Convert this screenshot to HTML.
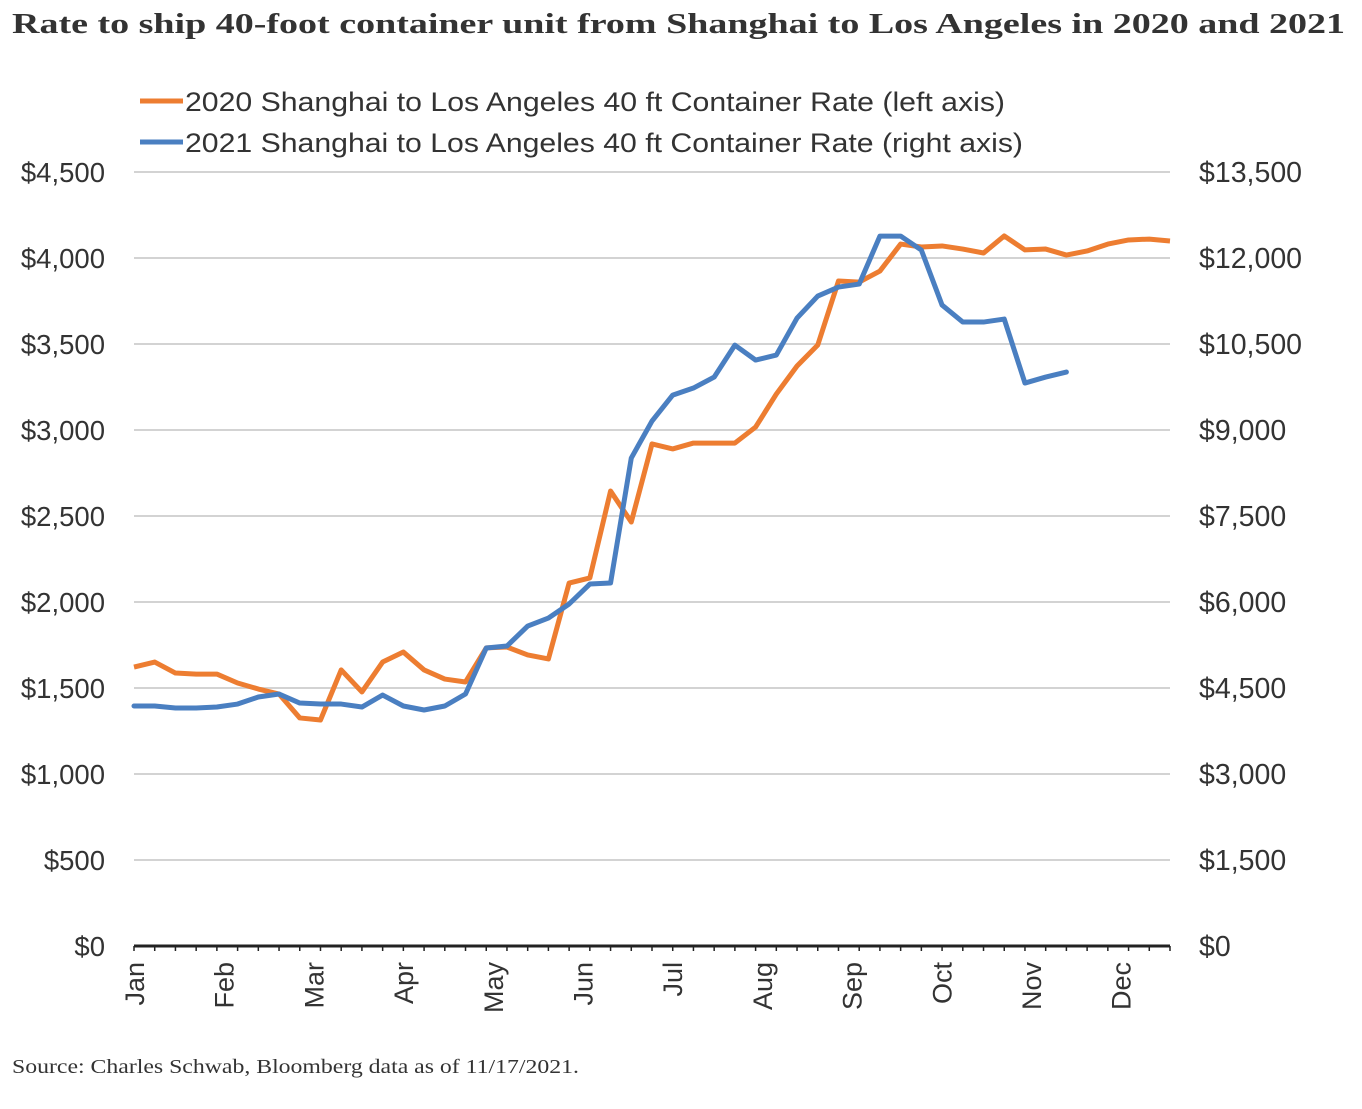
<!DOCTYPE html>
<html><head><meta charset="utf-8"><style>
body{margin:0;background:#fff;width:1362px;height:1104px;overflow:hidden}
svg text{font-family:"Liberation Sans",sans-serif}
</style></head><body>
<svg id="chart" width="1362" height="1104" xmlns="http://www.w3.org/2000/svg">
<text x="12" y="33" textLength="1333" lengthAdjust="spacingAndGlyphs" style="font-family:'Liberation Serif',serif;font-weight:bold;font-size:29px" fill="#333">Rate to ship 40-foot container unit from Shanghai to Los Angeles in 2020 and 2021</text>
<g>
<line x1="140" y1="101" x2="183" y2="101" stroke="#ed7d31" stroke-width="5"/>
<text x="185" y="111" textLength="820" lengthAdjust="spacingAndGlyphs" font-size="27" fill="#333">2020 Shanghai to Los Angeles 40 ft Container Rate (left axis)</text>
<line x1="140" y1="142" x2="183" y2="142" stroke="#4a7fc1" stroke-width="5"/>
<text x="185" y="152" textLength="838" lengthAdjust="spacingAndGlyphs" font-size="27" fill="#333">2021 Shanghai to Los Angeles 40 ft Container Rate (right axis)</text>
</g>
<g id="grid"></g><g id="axes"></g><g id="series"></g>
<text x="12" y="1073" textLength="567" lengthAdjust="spacingAndGlyphs" style="font-family:'Liberation Serif',serif;font-size:20px" fill="#333">Source: Charles Schwab, Bloomberg data as of 11/17/2021.</text>
</svg>
<script>
const months=["Jan","Feb","Mar","Apr","May","Jun","Jul","Aug","Sep","Oct","Nov","Dec"];
const leftTicks=[0,500,1000,1500,2000,2500,3000,3500,4000,4500];
const rightTicks=[0,1500,3000,4500,6000,7500,9000,10500,12000,13500];
const rate2020=[1622,1651,1587,1581,1581,1529,1494,1465,1326,1314,1605,1477,1651,1709,1605,1552,1535,1733,1738,1692,1669,2110,2140,2645,2465,2919,2890,2924,2924,2924,3017,3209,3372,3494,3866,3860,3924,4081,4064,4070,4052,4029,4128,4047,4052,4017,4041,4081,4105,4110,4099];
const rate2021=[4186,4186,4151,4151,4168,4220,4343,4395,4238,4220,4220,4168,4377,4186,4116,4186,4395,5197,5232,5581,5720,5965,6313,6331,8511,9156,9609,9732,9923,10481,10220,10307,10952,11336,11493,11545,12382,12382,12138,11179,10883,10883,10935,9819,9923,10011];
const X0=134,X1=1170,Y0=946,Y1=172;
const yL=v=>Y0-(v/4500)*(Y0-Y1);
const yR=v=>Y0-(v/13500)*(Y0-Y1);
const xW=i=>X0+i*20.72;
const xM=i=>X0+i*89.7;
const NS="http://www.w3.org/2000/svg";
function mk(t,a,p){const e=document.createElementNS(NS,t);for(const k in a)e.setAttribute(k,a[k]);p.appendChild(e);return e;}
const grid=document.getElementById('grid'),axes=document.getElementById('axes'),ser=document.getElementById('series');
leftTicks.forEach((v,i)=>{
 if(i>0){const g=mk('line',{x1:X0,x2:X1,y1:yL(v),y2:yL(v),stroke:'#d3d3d3','stroke-width':2},grid);
 
 }
 const t=mk('text',{x:105,y:yL(v)+10,'text-anchor':'end','font-size':27.5,fill:'#333'},axes);
 t.textContent='$'+v.toLocaleString('en-US');
 
 
});
rightTicks.forEach(v=>{
 const t=mk('text',{x:1199,y:yR(v)+10,'font-size':28.5,fill:'#333'},axes);
 t.textContent='$'+v.toLocaleString('en-US');
 
 
});
const ax=mk('line',{x1:X0,x2:X1,y1:Y0,y2:Y0,stroke:'#222','stroke-width':3},axes);


for(let i=0;i<=50;i++){const tk=mk('line',{x1:xW(i),x2:xW(i),y1:Y0,y2:Y0+5,stroke:'#222','stroke-width':1.5},axes);
 
 }
months.forEach((m,i)=>{
 const x=xM(i);
 const t=mk('text',{x:0,y:0,'text-anchor':'end','font-size':27,fill:'#333',transform:`translate(${x+10},962) rotate(-90)`},axes);
 t.textContent=m;
 
 
});
const p1=mk('polyline',{points:rate2020.map((v,i)=>xW(i)+','+yL(v)).join(' '),fill:'none',stroke:'#ed7d31','stroke-width':5,'stroke-linejoin':'round'},ser);


const p2=mk('polyline',{points:rate2021.map((v,i)=>xW(i)+','+yR(v)).join(' '),fill:'none',stroke:'#4a7fc1','stroke-width':5,'stroke-linejoin':'round','stroke-linecap':'round'},ser);


</script>
</body></html>
